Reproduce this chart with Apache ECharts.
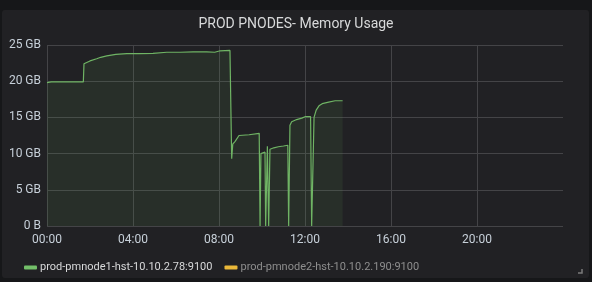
<!DOCTYPE html>
<html><head><meta charset="utf-8">
<script src="https://cdn.jsdelivr.net/npm/echarts@6/dist/echarts.min.js"></script>
<style>html,body{margin:0;padding:0;background:#161719;}#c{width:592px;height:282px;}</style>
</head><body><div id="c"></div>
<script>
const title = 'PROD PNODES- Memory Usage';
const seriesNames = ['prod-pmnode1-hst-10.10.2.78:9100', 'prod-pmnode2-hst-10.10.2.190:9100'];
const xTicks = [0, 4, 8, 12, 16, 20];
const yTicks = [0, 5, 10, 15, 20, 25];
// hours since 00:00
const hours = [0.0, 0.2, 0.25, 0.3, 0.8, 1.3, 1.69, 1.72, 1.8, 2.0, 2.31, 2.5, 2.78, 3.2, 3.71, 4.3, 4.93, 5.57, 6.2, 6.8, 7.43, 7.45, 7.8, 8.05, 8.51, 8.59, 8.64, 8.75, 8.93, 9.4, 9.87, 9.91, 9.95, 10.14, 10.17, 10.25, 10.31, 10.37, 10.55, 10.76, 11.0, 11.2, 11.24, 11.3, 11.38, 11.61, 11.85, 12.0, 12.26, 12.31, 12.38, 12.42, 12.52, 12.65, 12.8, 13.1, 13.4, 13.75];
// GB
const node1 = [19.8, 19.9, 20.1, 19.9, 19.9, 19.9, 19.9, 22.4, 22.6, 22.8, 23.1, 23.3, 23.5, 23.7, 23.8, 23.8, 23.85, 24.0, 24.0, 24.05, 24.05, 23.9, 24.0, 24.2, 24.25, 9.3, 11.3, 11.7, 12.5, 12.6, 12.8, 0, 10.0, 10.2, 0, 11.0, 0, 10.6, 10.8, 10.95, 11.05, 11.15, 0, 13.9, 14.4, 14.7, 14.9, 15.1, 15.1, 0, 0, 15.0, 16.0, 16.6, 16.9, 17.1, 17.3, 17.3];
const node2 = [];

const chart = echarts.init(document.getElementById('c'));
chart.setOption({
  backgroundColor: '#161719',
  animation: false,
  graphic: [{
    type: 'rect', z: -10, silent: true,
    shape: { x: 2, y: 10, width: 587, height: 268, r: 3 },
    style: { fill: '#212124' }
  }, {
    type: 'polyline', silent: true,
    shape: { points: [[578, 273], [582, 273], [582, 269]] },
    style: { stroke: '#7b7b7b', lineWidth: 1.5, fill: null }
  }],
  title: {
    text: title, left: 'center', top: 12,
    textStyle: { color: '#d8d9da', fontSize: 14, fontWeight: 'normal', fontFamily: 'Roboto' }
  },
  grid: { left: 47, right: 29, top: 45, bottom: 56 },
  xAxis: {
    type: 'value', min: 0, max: 24, interval: 4,
    axisLine: { show: false }, axisTick: { show: false },
    splitLine: { show: true, showMaxLine: false, lineStyle: { color: '#444447', width: 1 } },
    axisLabel: {
      color: '#c7d0d9', fontSize: 12, fontFamily: 'Roboto', margin: 8, showMaxLabel: false,
      formatter: v => (v < 10 ? '0' + v : '' + v) + ':00'
    }
  },
  yAxis: {
    type: 'value', min: 0, max: 25, interval: 5,
    axisLine: { show: false }, axisTick: { show: false },
    splitLine: { show: true, lineStyle: { color: '#444447', width: 1 } },
    axisLabel: {
      color: '#c7d0d9', fontSize: 12, fontFamily: 'Roboto', margin: 6,
      formatter: v => v === 0 ? '0 B' : v + ' GB'
    }
  },
  legend: {
    left: 19, top: 257, itemWidth: 13, itemHeight: 4, itemGap: 12,
    icon: 'roundRect',
    textStyle: { fontSize: 11, fontFamily: 'Roboto', padding: [0, 0, 0, -2] },
    data: [
      { name: seriesNames[0], textStyle: { color: '#d8d9da' } },
      { name: seriesNames[1], textStyle: { color: '#8e8e8e' } }
    ]
  },
  series: [{
    name: seriesNames[0], type: 'line', symbol: 'none',
    data: hours.map((h, i) => [h, node1[i]]),
    lineStyle: { color: '#6fb464', width: 1.2 },
    itemStyle: { color: '#73bf69' },
    areaStyle: { color: 'rgba(115,191,105,0.13)' }
  }, {
    name: seriesNames[1], type: 'line', symbol: 'none',
    data: node2,
    lineStyle: { color: '#eab839', width: 1 },
    itemStyle: { color: '#eab839' }
  }]
});
</script></body></html>
